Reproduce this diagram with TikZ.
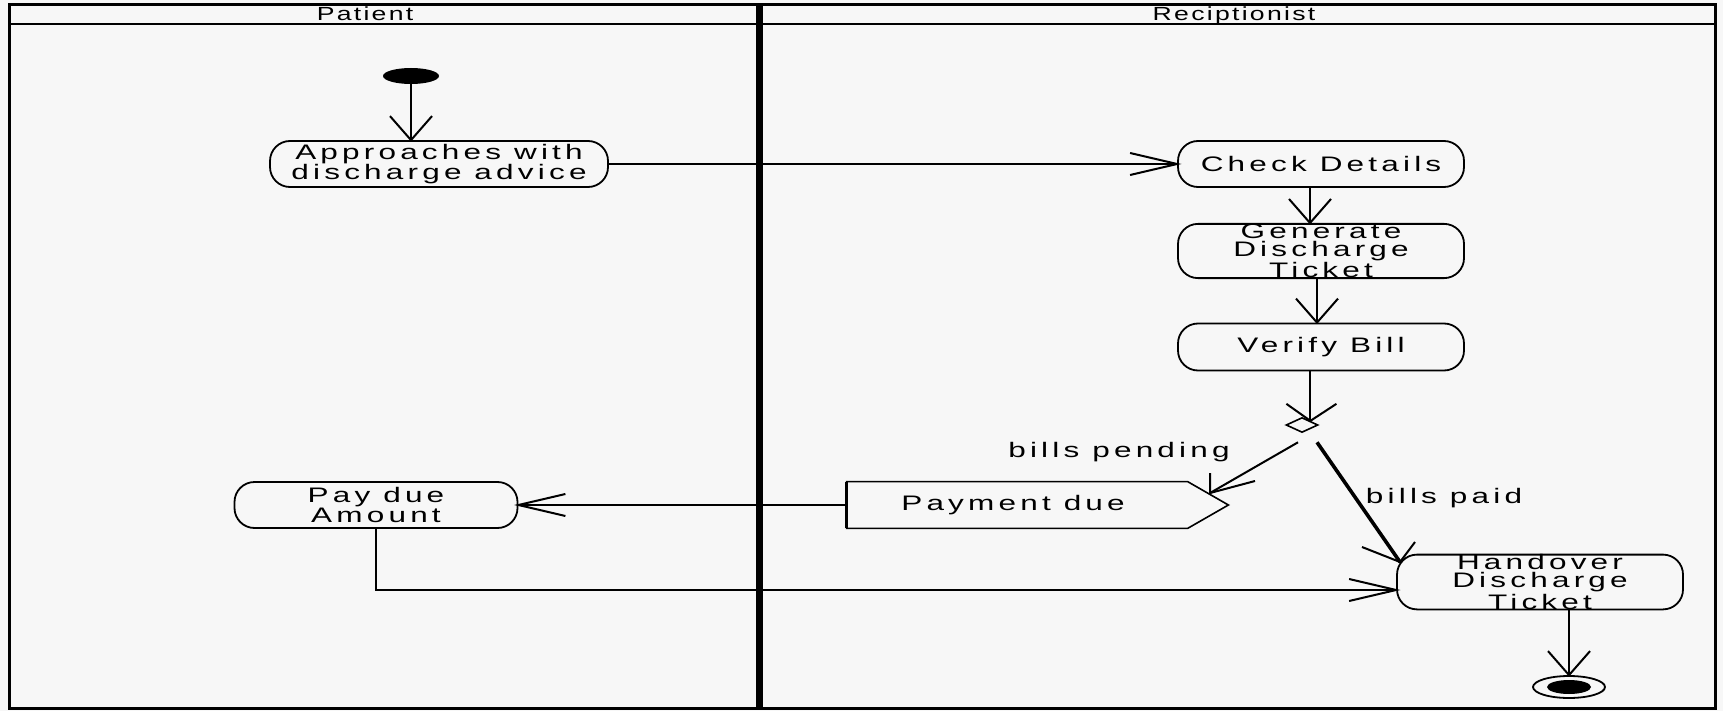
\documentclass[tikz,border=0pt]{standalone}
\usepackage{fontspec}
\setmainfont{Liberation Sans}[FakeStretch=1.5, LetterSpace=20]
\newfontfamily\hdrfont{Liberation Sans}[FakeStretch=1.4, LetterSpace=12]
\usetikzlibrary{shapes.geometric}
\definecolor{bg}{HTML}{F7F7F7}
\begin{document}
\begin{tikzpicture}[x=0.5pt, y=-0.5pt,
  act/.style={draw, line width=0.9pt, rounded corners=10pt, align=center, font=\fontsize{10.5}{10.4}\selectfont, inner sep=0pt},
  act3/.style={act, font=\fontsize{10.5}{8.9}\selectfont},
  conn/.style={line width=1pt},
  lbl/.style={font=\fontsize{10.5}{11}\selectfont},
  hdr/.style={font=\hdrfont\fontsize{9.5}{10}\selectfont, anchor=base},
  pics/vdown/.style={code={\draw[line width=1pt] (-21,-24) -- (0,0) -- (21,-24);}},
  pics/hright/.style={code={\draw[line width=1pt] (-47,-11) -- (0,0) -- (-47,11);}},
  pics/hleft/.style={code={\draw[line width=1pt] (47,-11) -- (0,0) -- (47,11);}},
]
\useasboundingbox (0,0) rectangle (1723,711);
\fill[bg] (0,0) rectangle (1723,711);
% frame and lanes
\draw[line width=1.5pt] (9,5) rectangle (1715,708);
\draw[line width=1pt] (9,24) -- (1715,24);
\draw[line width=3.5pt] (759,5) -- (759,708);
\node[hdr] (h1) at (365,21) {Patient};
\node[hdr] (h2) at (1234,21) {Reciptionist};
% nodes
\node[ellipse, fill=black, minimum width=28pt, minimum height=8pt, inner sep=0pt] (start) at (411,76) {};
\node[act, minimum width=169pt, minimum height=23pt] (appr) at (439,164) {Approaches with\\discharge advice};
\node[act, minimum width=143pt, minimum height=23pt] (check) at (1321,164) {Check Details};
\node[act3, minimum width=143pt, minimum height=26.5pt] (gen) at (1321,251) {Generate\\Discharge\\Ticket};
\node[act, minimum width=143pt, minimum height=23.5pt] (verify) at (1321,347) {Verify Bill};
\node[diamond, draw, line width=0.8pt, minimum width=16pt, minimum height=7.5pt, inner sep=0pt] (dec) at (1302,425) {};
\node[act, minimum width=141.5pt, minimum height=23pt] (pay) at (376,505) {Pay due\\Amount};
\node[act3, minimum width=143pt, minimum height=26.5pt] (hand) at (1540,582) {Handover\\Discharge\\Ticket};
\node[minimum width=190.5pt, minimum height=23pt, inner sep=0pt] (sig) at (1037.5,505) {};
\draw[line width=0.8pt] (sig.north west) -- ([xshift=170.5pt]sig.north west) -- (sig.east) -- ([xshift=170.5pt]sig.south west) -- (sig.south west) -- cycle;
\draw[line width=1.6pt] (sig.north west) -- (sig.south west);
\node[lbl] (sigtext) at (1013,505) {Payment due};
\coordinate (sigtip) at (1210,493);
\coordinate (handtip) at (1400,562);
\node[ellipse, draw, line width=0.9pt, minimum width=36pt, minimum height=11pt, inner sep=0pt] (final) at (1569,687) {};
\node[ellipse, fill=black, minimum width=22pt, minimum height=7pt, inner sep=0pt] (finalin) at (1569,687) {};
% labels
\node[lbl] (bpend) at (1119,452) {bills pending};
\node[lbl] (bpaid) at (1444,498) {bills paid};
% connectors
\draw[conn] (start.south) -- (start.south |- appr.north);
\pic at (start.south |- appr.north) {vdown};
\draw[conn] (appr.east) -- (check.west);
\pic at (check.west) {hright};
\draw[conn] ([xshift=-5.5pt]check.south) -- ([xshift=-5.5pt]gen.north);
\pic at ([xshift=-5.5pt]gen.north) {vdown};
\draw[conn] ([xshift=-2pt]gen.south) -- ([xshift=-2pt]verify.north);
\pic at ([xshift=-2pt]verify.north) {vdown};
\draw[conn] (verify.south -| dec.north east) -- (dec.north east);
\draw[line width=1pt] ([shift={(-24,-17)}]dec.north east) -- (dec.north east) -- ([shift={(26,-17)}]dec.north east);
\draw[conn] ([xshift=-2pt, yshift=-4.5pt]dec.south) -- (sigtip);
\draw[line width=1pt] ([shift={(0,-20)}]sigtip) -- (sigtip) -- ([shift={(45,-12)}]sigtip);
\draw[line width=1.8pt] ([xshift=7.5pt, yshift=-4.5pt]dec.south) -- (handtip);
\draw[line width=1pt] ([shift={(-38,-15)}]handtip) -- (handtip) -- ([shift={(15,-20)}]handtip);
\draw[conn] (sig.west) -- (pay.east);
\pic at (pay.east) {hleft};
\draw[conn] (pay.south) |- ([yshift=-4pt]hand.west);
\pic at ([yshift=-4pt]hand.west) {hright};
\draw[conn] (final.north |- hand.south) -- (final.north);
\pic at (final.north) {vdown};
\end{tikzpicture}
\end{document}
